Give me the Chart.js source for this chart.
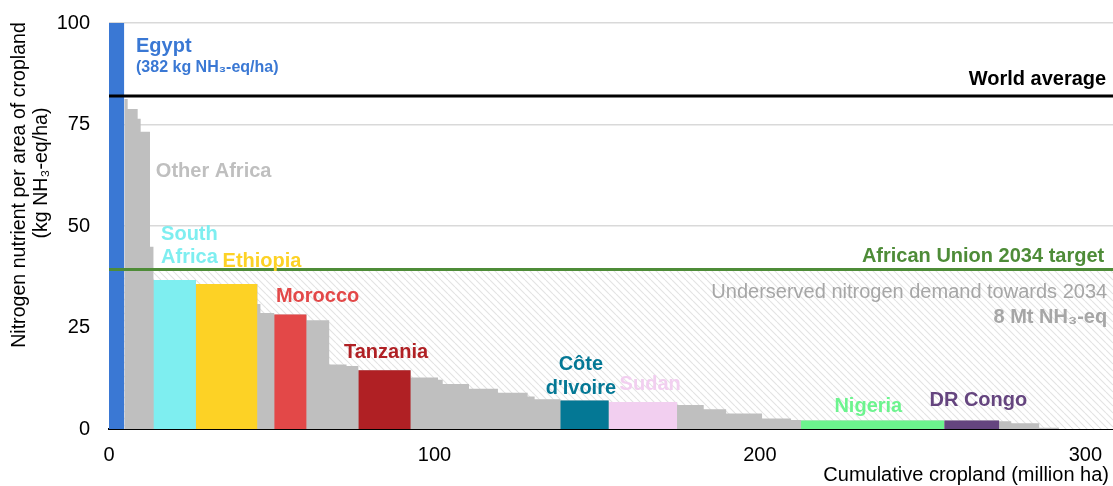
<!DOCTYPE html>
<html>
<head>
<meta charset="utf-8">
<script src="https://cdn.jsdelivr.net/npm/chart.js@4.4.1/dist/chart.umd.min.js"></script>
<style>
  html, body { margin: 0; padding: 0; background: #ffffff; }
  #wrap { width: 1113px; height: 486px; position: relative; }
</style>
</head>
<body>
<div id="wrap"><canvas id="c" width="1113" height="486"></canvas></div>
<script>
// ---------------- DATA ----------------
const categories = [
  'Egypt', 'Other Africa', 'Other Africa', 'Other Africa', 'Other Africa', 'Other Africa',
  'South Africa', 'Ethiopia', 'Other Africa', 'Other Africa', 'Morocco', 'Other Africa',
  'Other Africa', 'Other Africa', 'Tanzania', 'Other Africa', 'Other Africa', 'Other Africa',
  'Other Africa', 'Other Africa', 'Other Africa', 'Other Africa', "Côte d'Ivoire", 'Sudan',
  'Other Africa', 'Other Africa', 'Other Africa', 'Other Africa', 'Other Africa', 'Nigeria',
  'DR Congo', 'Other Africa', 'Other Africa', 'Other Africa'
];
// cropland of each bar (million ha)
const croplandWidths = [
  4.7, 1.04, 3.07, 0.92, 2.86, 1.07,
  13.05, 18.9, 0.92, 4.24, 9.95, 6.94,
  5.34, 3.62, 16.1, 8.38, 1.44, 8.07,
  8.9, 9.12, 2.15, 7.89, 14.9, 21.0,
  8.17, 6.88, 11.05, 8.9, 3.07, 44.0,
  16.9, 3.68, 8.6, 6.1
];
// nitrogen nutrient per area of cropland (kg NH3-eq/ha)
const nitrogenValues = [
  382, 81.3, 78.8, 76.4, 73.2, 44.9,
  36.7, 35.7, 30.8, 28.6, 28.2, 26.8,
  15.9, 15.5, 14.5, 12.7, 12.1, 11.1,
  9.9, 8.9, 8.0, 7.3, 7.0, 6.65,
  5.9, 4.85, 3.8, 2.6, 2.2, 2.1,
  2.1, 1.9, 1.4, 0.3
];
const worldAverage = 82.0;
const auTarget2034 = 39.3;
const xTickValues = [0, 100, 200, 300];
const yTickValues = [0, 25, 50, 75, 100];
const xMax = 308.5;

// ---------------- STYLE ----------------
const FONT = '"Liberation Sans", Arial, Helvetica, sans-serif';
const colorOf = {
  'Egypt': '#3a78d4',
  'Other Africa': '#bfbfbf',
  'South Africa': '#7eeef0',
  'Ethiopia': '#fdd225',
  'Morocco': '#e34848',
  'Tanzania': '#b02024',
  "Côte d'Ivoire": '#047895',
  'Sudan': '#f2cff0',
  'Nigeria': '#6cf48e',
  'DR Congo': '#65457f'
};
const AU_GREEN = '#4e8c38';
const CLEAR = 'rgba(0,0,0,0)';

// cumulative bar edges
const starts = [];
const ends = [];
{
  let acc = 0;
  for (let i = 0; i < croplandWidths.length; i++) {
    starts.push(acc);
    acc += croplandWidths[i];
    ends.push(acc);
  }
}

// hatch pattern
function makeHatch() {
  const s = 7;
  const cv = document.createElement('canvas');
  cv.width = s; cv.height = s;
  const g = cv.getContext('2d');
  g.fillStyle = '#ffffff';
  g.fillRect(0, 0, s, s);
  g.strokeStyle = '#e3e3e3';
  g.lineWidth = 1.1;
  g.beginPath();
  for (let k = -1; k <= 1; k++) {
    g.moveTo(k * s, 0);
    g.lineTo(k * s + s, s);
  }
  g.stroke();
  return document.getElementById('c').getContext('2d').createPattern(cv, 'repeat');
}

const datasets = [];
// hatched "underserved" area up to target
datasets.push({
  data: [{ x: 0, y: auTarget2034 }, { x: xMax, y: auTarget2034 }],
  fill: 'origin', backgroundColor: makeHatch(), borderWidth: 0, pointRadius: 0, order: 6
});
// gray "Other Africa" step area (continuous, colored bars drawn over it)
const grayPts = [];
for (let i = 1; i < categories.length; i++) {
  grayPts.push({ x: starts[i], y: nitrogenValues[i] });
  grayPts.push({ x: ends[i], y: nitrogenValues[i] });
}
datasets.push({
  data: grayPts, fill: 'origin', backgroundColor: colorOf['Other Africa'],
  borderWidth: 0, pointRadius: 0, order: 5
});
// highlighted countries
for (let i = 0; i < categories.length; i++) {
  if (categories[i] === 'Other Africa') continue;
  datasets.push({
    label: categories[i],
    data: [{ x: starts[i], y: nitrogenValues[i] }, { x: ends[i], y: nitrogenValues[i] }],
    fill: 'origin', backgroundColor: colorOf[categories[i]],
    borderWidth: 0, pointRadius: 0, order: 4
  });
}
// reference lines
datasets.push({
  data: [{ x: 0, y: auTarget2034 }, { x: xMax, y: auTarget2034 }],
  fill: false, borderColor: AU_GREEN, borderWidth: 3, pointRadius: 0, order: 1
});
datasets.push({
  data: [{ x: 0, y: worldAverage }, { x: xMax, y: worldAverage }],
  fill: false, borderColor: '#000000', borderWidth: 3, pointRadius: 0, order: 1
});

// text annotations, anchored in data coordinates
const notes = [
  { t: 'Egypt', x: 8.3, y: 92.9, c: colorOf['Egypt'], f: 'bold 20px', a: 'left' },
  { t: '(382 kg NH₃-eq/ha)', x: 8.3, y: 87.9, c: colorOf['Egypt'], f: 'bold 16px', a: 'left' },
  { t: 'World average', x: 306.4, y: 84.7, c: '#000000', f: 'bold 20px', a: 'right' },
  { t: 'Other Africa', x: 14.4, y: 62.1, c: '#bfbfbf', f: 'bold 20px', a: 'left' },
  { t: 'South', x: 16.0, y: 46.6, c: colorOf['South Africa'], f: 'bold 20px', a: 'left' },
  { t: 'Africa', x: 16.0, y: 40.8, c: colorOf['South Africa'], f: 'bold 20px', a: 'left' },
  { t: 'Ethiopia', x: 34.9, y: 39.9, c: colorOf['Ethiopia'], f: 'bold 20px', a: 'left' },
  { t: 'Morocco', x: 51.3, y: 31.35, c: colorOf['Morocco'], f: 'bold 20px', a: 'left' },
  { t: 'Tanzania', x: 72.2, y: 17.4, c: colorOf['Tanzania'], f: 'bold 20px', a: 'left' },
  { t: 'Côte', x: 145.0, y: 14.5, c: colorOf["Côte d'Ivoire"], f: 'bold 20px', a: 'center' },
  { t: "d'Ivoire", x: 145.0, y: 8.6, c: colorOf["Côte d'Ivoire"], f: 'bold 20px', a: 'center' },
  { t: 'Sudan', x: 156.9, y: 9.6, c: colorOf['Sudan'], f: 'bold 20px', a: 'left' },
  { t: 'African Union 2034 target', x: 305.8, y: 41.2, c: AU_GREEN, f: 'bold 20px', a: 'right' },
  { t: 'Underserved nitrogen demand towards 2034', x: 306.7, y: 32.2, c: '#a6a6a6', f: '20px', a: 'right' },
  { t: '8 Mt NH₃-eq', x: 306.7, y: 26.0, c: '#a6a6a6', f: 'bold 20px', a: 'right' },
  { t: 'Nigeria', x: 222.9, y: 4.3, c: colorOf['Nigeria'], f: 'bold 20px', a: 'left' },
  { t: 'DR Congo', x: 252.1, y: 5.67, c: colorOf['DR Congo'], f: 'bold 20px', a: 'left' }
];

const annotate = {
  id: 'annotate',
  afterDatasetsDraw(chart) {
    const ctx = chart.ctx;
    const xs = chart.scales.x, ys = chart.scales.y;
    ctx.save();
    ctx.textBaseline = 'alphabetic';
    for (const n of notes) {
      ctx.font = n.f + ' ' + FONT;
      ctx.fillStyle = n.c;
      ctx.textAlign = n.a;
      ctx.fillText(n.t, xs.getPixelForValue(n.x), ys.getPixelForValue(n.y));
    }
    ctx.restore();
  },
  afterDraw(chart) {
    const ctx = chart.ctx;
    const ca = chart.chartArea;
    ctx.save();
    ctx.fillStyle = '#000000';
    ctx.font = '20px ' + FONT;
    // x-axis title
    ctx.textAlign = 'right';
    ctx.textBaseline = 'alphabetic';
    ctx.fillText('Cumulative cropland (million ha)', ca.right - 4, 481);
    // y-axis title (two lines, rotated)
    ctx.rotate(-Math.PI / 2);
    ctx.textAlign = 'center';
    ctx.textBaseline = 'middle';
    ctx.font = '19.6px ' + FONT;
    ctx.fillText('Nitrogen nutrient per area of cropland', -185, 20);
    ctx.fillText('(kg NH₃-eq/ha)', -173, 42);
    ctx.restore();
  }
};

new Chart(document.getElementById('c'), {
  type: 'line',
  data: { datasets },
  options: {
    responsive: false,
    animation: false,
    events: [],
    layout: { padding: { left: 0, right: 0, top: 23, bottom: 0 } },
    plugins: { legend: { display: false }, tooltip: { enabled: false } },
    scales: {
      x: {
        type: 'linear', min: 0, max: xMax,
        afterFit(s) { s.height = 57; },
        afterBuildTicks(s) { s.ticks = xTickValues.map(v => ({ value: v })); },
        grid: { display: true, drawOnChartArea: false, drawTicks: true, tickLength: 14, color: CLEAR, tickColor: CLEAR },
        border: { display: true, color: '#000000', width: 2 },
        ticks: { font: { family: FONT, size: 20 }, color: '#000000', padding: 0, maxRotation: 0 }
      },
      y: {
        type: 'linear', min: 0, max: 100,
        afterFit(s) { s.width = 109; },
        afterBuildTicks(s) { s.ticks = yTickValues.map(v => ({ value: v })); },
        grid: {
          color: (c) => (c.tick && c.tick.value === 0 ? CLEAR : '#d9d9d9'),
          lineWidth: 1.5, drawTicks: true, tickLength: 19, tickColor: CLEAR
        },
        border: { display: false },
        ticks: { font: { family: FONT, size: 20 }, color: '#000000', padding: 0 }
      }
    }
  },
  plugins: [annotate]
});
</script>
</body>
</html>
